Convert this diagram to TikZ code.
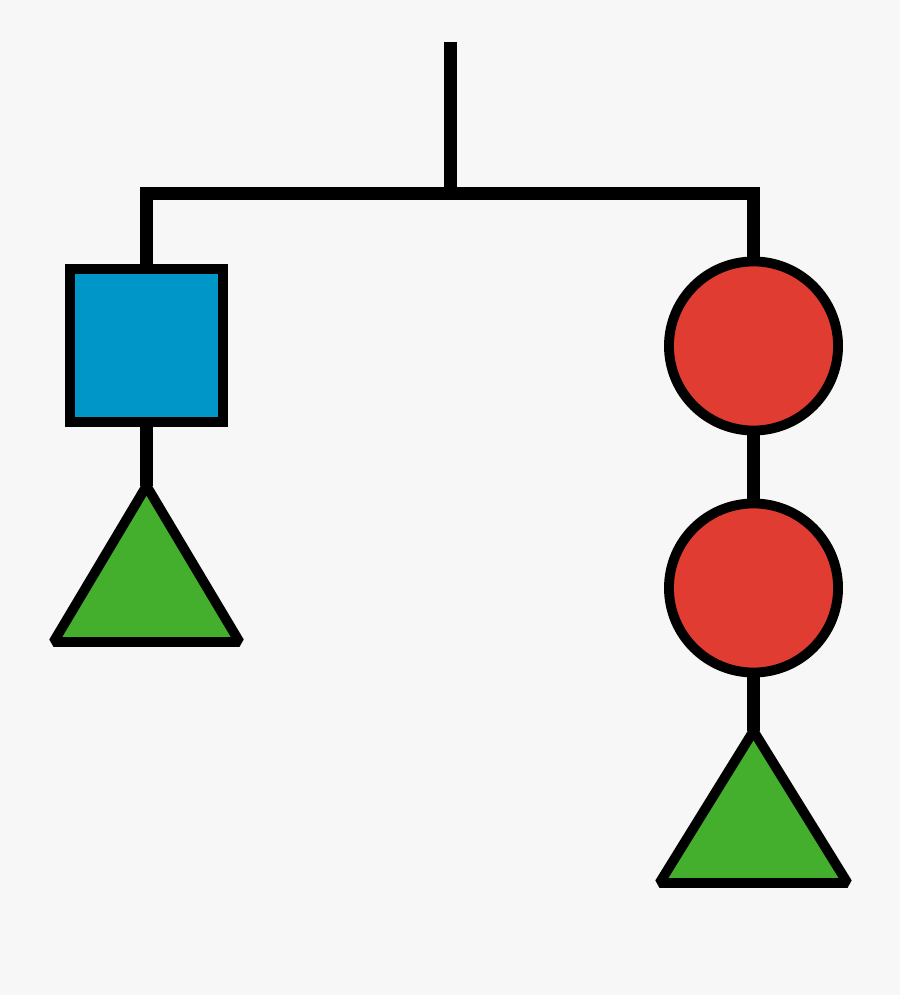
\documentclass[tikz,border=0pt]{standalone}
\definecolor{ccblue}{RGB}{0,150,200}
\definecolor{ccred}{RGB}{224,60,49}
\definecolor{ccgreen}{RGB}{67,175,45}
\definecolor{ccfond}{RGB}{247,247,247}

\begin{document}
\begin{tikzpicture}[x=0.01cm, y=-0.01cm]

  % Styles
  \tikzstyle{tige} = [line width=3.7pt, black]
  \tikzstyle{forme} = [draw=black, line width=2.8pt, inner sep=0pt, outer sep=0pt]
  \tikzstyle{carre} = [forme, rectangle, fill=ccblue, minimum size=1.53cm]
  \tikzstyle{rond} = [forme, circle, fill=ccred, minimum size=1.69cm]
  \tikzstyle{pyramide} = [draw=black, line width=2.8pt, line join=bevel, fill=ccgreen]

  % Fond
  \fill[ccfond] (0,0) rectangle (900,995);

  % Points d'accroche
  \coordinate (crochet) at (450,42);
  \coordinate (milieu) at (450,194);

  % Formes
  \node[carre] (carre1) at (146.5,345.5) {};
  \node[rond] (rond1) at (753.5,346) {};
  \node[rond] (rond2) at (753.5,588) {};
  \coordinate (pyr1) at (146.5,486);
  \coordinate (pyr2) at (753.5,731);
  \filldraw[pyramide] (pyr1) -- ++(-93,156) -- ++(186,0) -- cycle;
  \filldraw[pyramide] (pyr2) -- ++(-94,152) -- ++(188,0) -- cycle;

  % Tiges
  \draw[tige] (crochet) -- (milieu);
  \draw[tige] (carre1.north) |- (milieu) -| (rond1.north);
  \draw[tige] (carre1.south) -- (pyr1);
  \draw[tige] (rond1.south) -- (rond2.north);
  \draw[tige] (rond2.south) -- (pyr2);

\end{tikzpicture}
\end{document}
